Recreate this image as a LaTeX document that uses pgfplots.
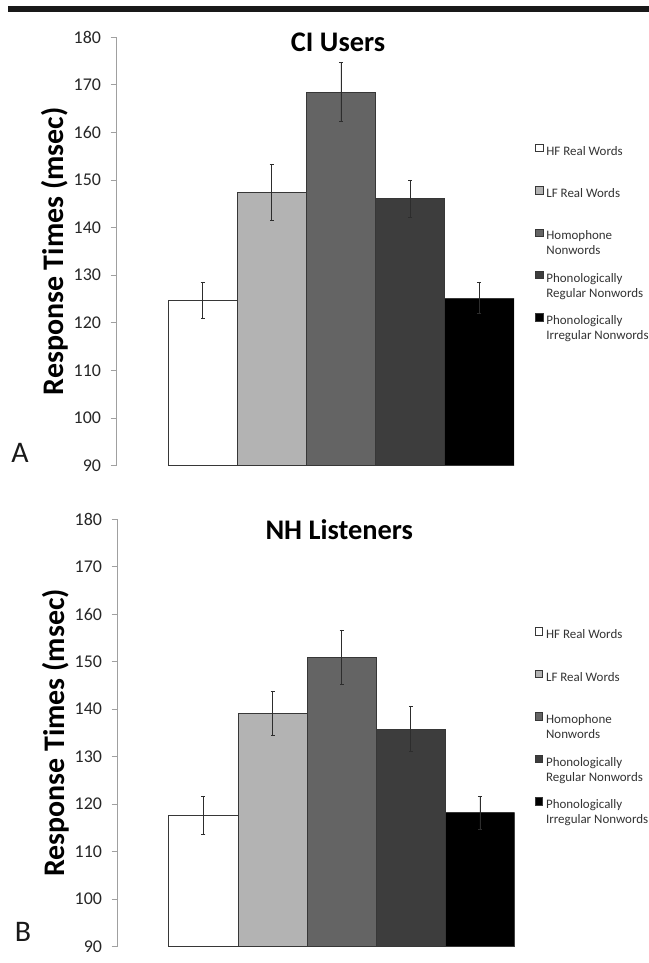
\documentclass[border=0pt]{standalone}
\usepackage{pgfplots}
\pgfplotsset{compat=1.18}
\usepackage{fontspec}
\setmainfont{Carlito}
\definecolor{cLF}{RGB}{179,179,179}
\definecolor{cHom}{RGB}{100,100,100}
\definecolor{cReg}{RGB}{61,61,61}
\definecolor{cEdge}{RGB}{55,55,55}
\definecolor{cAx}{RGB}{160,160,160}
\definecolor{cErr}{RGB}{45,45,45}
\newcommand{\one}[1]{\strut #1}
\newcommand{\two}[2]{\strut\smash{\vtop{\hbox{#1}\hbox{#2}}}}
\pgfplotsset{
  rtaxis/.style={
    anchor=south west,
    scale only axis,
    width=398bp, height=428.5bp,
    xmin=-1.25, xmax=4.5,
    ymin=0, ymax=90,
    hide x axis,
    axis y line*=left,
    axis line style={cAx, line width=0.8bp},
    ytick={0,10,20,30,40,50,60,70,80,90},
    yticklabels={90,100,110,120,130,140,150,160,170,180},
    tick align=outside,
    major tick length=5.5bp,
    y tick style={cAx, line width=0.8bp},
    yticklabel style={font=\fontsize{18}{20}\selectfont, text=black!85, xshift=-6bp},
    /pgf/number format/assume math mode=true,
    ylabel={Response Times (msec)},
    ylabel style={font=\bfseries\fontsize{30}{32}\selectfont, at={(axis description cs:-0.155,0.5)}, anchor=center},
    ybar, bar width=1, bar shift=0pt,
    y filter/.expression={y-90},
    every axis plot/.append style={draw=cEdge, line width=0.7bp},
    error bars/y dir=both,
    error bars/y explicit,
    error bars/error bar style={cErr, line width=0.8bp},
    error bars/error mark options={rotate=90, mark size=2bp, cErr, line width=0.8bp},
    legend image code/.code={\draw[#1, draw=cEdge, line width=0.5bp] (0bp,-0.8bp) rectangle (7.5bp,6.7bp); \path (10.5bp,0bp);},
    legend cell align=left,
    legend style={draw=none, fill=none, inner sep=0pt, anchor=north west,
      font=\fontsize{13}{15}\selectfont, text=black!80, row sep=29.5bp,
      nodes={inner sep=0pt}},
  }
}
\begin{document}
\begin{tikzpicture}[x=1bp,y=1bp]
\useasboundingbox (0,0) rectangle (649,963);
\fill[black!90] (8,950.7) rectangle (649,957);
% Panel A
\begin{axis}[rtaxis, at={(116bp,497.3bp)},
  title={CI Users},
  title style={font=\bfseries\fontsize{28.5}{30}\selectfont, at={(axis description cs:0.558,0.975)}, anchor=center},
  legend style={at={(axis description cs:1.053,0.752)}}]
\addplot[fill=white] coordinates {(0,124.7) +- (0,3.75)};
\addplot[fill=cLF] coordinates {(1,147.4) +- (0,5.85)};
\addplot[fill=cHom] coordinates {(2,168.5) +- (0,6.1)};
\addplot[fill=cReg] coordinates {(3,146.1) +- (0,3.85)};
\addplot[fill=black] coordinates {(4,125.2) +- (0,3.3)};
\legend{\one{HF Real Words}, \one{LF Real Words}, \two{Homophone}{Nonwords}, \two{Phonologically}{Regular Nonwords}, \two{Phonologically}{Irregular Nonwords}}
\end{axis}
\node[font=\fontsize{30}{32}\selectfont, text=black!90] at (20bp,510bp) {A};
% Panel B
\begin{axis}[rtaxis, at={(117bp,16.3bp)}, width=397.5bp, height=427.7bp,
  title={NH Listeners},
  title style={font=\bfseries\fontsize{28.5}{30}\selectfont, at={(axis description cs:0.559,0.962)}, anchor=center},
  legend style={at={(axis description cs:1.051,0.747)}}]
\addplot[fill=white] coordinates {(0,117.6) +- (0,3.95)};
\addplot[fill=cLF] coordinates {(1,139.1) +- (0,4.55)};
\addplot[fill=cHom] coordinates {(2,150.9) +- (0,5.75)};
\addplot[fill=cReg] coordinates {(3,135.8) +- (0,4.8)};
\addplot[fill=black] coordinates {(4,118.2) +- (0,3.5)};
\legend{\one{HF Real Words}, \one{LF Real Words}, \two{Homophone}{Nonwords}, \two{Phonologically}{Regular Nonwords}, \two{Phonologically}{Irregular Nonwords}}
\end{axis}
\node[font=\fontsize{30}{32}\selectfont, text=black!90] at (23bp,31bp) {B};
\end{tikzpicture}
\end{document}
